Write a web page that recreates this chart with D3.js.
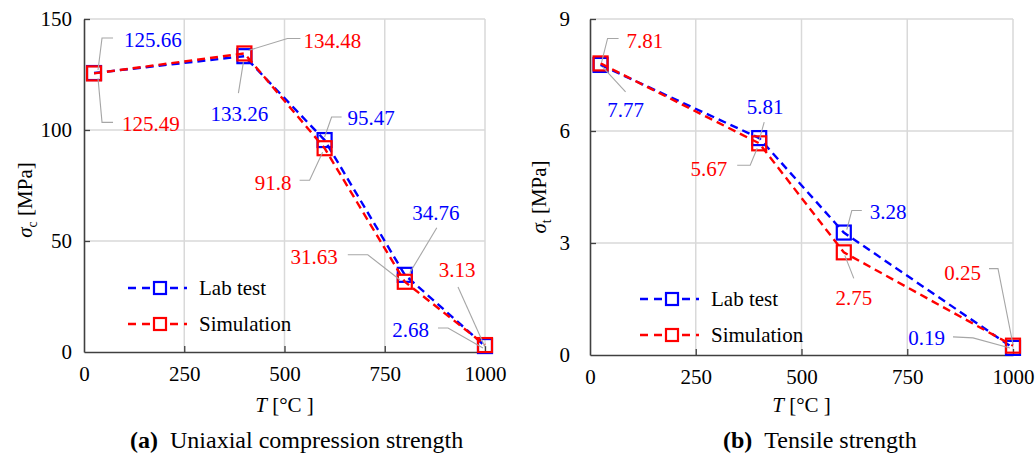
<!DOCTYPE html>
<html>
<head>
<meta charset="utf-8">
<script src="https://cdn.jsdelivr.net/npm/d3@7"></script>
</head>
<body style="margin:0">
<svg id="chart" width="1035" height="458"></svg>
<script>
// ---- data ----
const ucsTemps = [25, 400, 600, 800, 1000];
const ucsLab = [125.66, 133.26, 95.47, 34.76, 2.68];
const ucsSim = [125.49, 134.48, 91.8, 31.63, 3.13];

const tsTemps = [25, 400, 600, 1000];
const tsLab = [7.77, 5.81, 3.28, 0.19];
const tsSim = [7.81, 5.67, 2.75, 0.25];

const xTickValues = [0, 250, 500, 750, 1000];
const ucsTickValues = [0, 50, 100, 150];
const tsTickValues = [0, 3, 6, 9];

const seriesNames = ["Lab test", "Simulation"];
const captions = [["(a)", "Uniaxial compression strength"], ["(b)", "Tensile strength"]];

// ---- label placement: leader path and text offsets relative to each point ----
const ucsLabNotes = [
  { path: [[4, -3], [8, -35], [19, -35]], text: [30, -33], anchor: "start" },
  { path: [[-1, 6], [-6, 37]], text: [-5, 57], anchor: "middle" },
  { path: [[0, -3], [7, -23], [17, -23]], text: [23, -22], anchor: "start" },
  { path: [[5, -2], [32, -47]], text: [31, -62], anchor: "middle" },
  { path: [[-47, -18], [-37, -18], [-2, 2]], text: [-56, -16], anchor: "end" }
];
const ucsSimNotes = [
  { path: [[4, 5], [8, 49], [19, 49]], text: [28, 50], anchor: "start" },
  { path: [[4, -3], [43, -15], [56, -15]], text: [59, -13], anchor: "start" },
  { path: [[-25, 32], [-15, 32], [-2, 4]], text: [-33, 34], anchor: "end" },
  { path: [[-57, -27], [-37, -27], [-5, -2]], text: [-67, -25], anchor: "end" },
  { path: [[-27, -58], [0, 2]], text: [-28, -75], anchor: "middle" }
];
const tsLabNotes = [
  { path: [[2, 2], [25, 27]], text: [25, 45], anchor: "middle" },
  { path: [[0, 2], [5, -16]], text: [6, -31], anchor: "middle" },
  { path: [[3, -3], [8, -22], [18, -22]], text: [26, -21], anchor: "start" },
  { path: [[-60, -11], [-40, -10], [-3, 0]], text: [-68, -10], anchor: "end" }
];
const tsSimNotes = [
  { path: [[1, -1], [7, -25], [18, -25]], text: [26, -23], anchor: "start" },
  { path: [[-22, 22], [-9, 22], [-2, 5]], text: [-32, 25], anchor: "end" },
  { path: [[1, 3], [10, 26]], text: [10, 45], anchor: "middle" },
  { path: [[-24, -77], [-15, -77], [0, -1]], text: [-32, -73], anchor: "end" }
];

const BLUE = "#0000ff", RED = "#ff0000";
const GRID = "#d9d9d9", AXIS = "#404040", LEADER = "#a6a6a6";
const FONT = '"Liberation Serif"';

const svg = d3.select("#chart").style("font-family", FONT);

// every text gets the serif face set directly on it
function serif(sel, size) {
  return sel.style("font-family", FONT).attr("font-size", size);
}

function drawPanel(cfg) {
  const x = d3.scaleLinear().domain([0, 1000]).range(cfg.xRange);
  const y = d3.scaleLinear().domain([0, cfg.yMax]).range(cfg.yRange);
  const g = svg.append("g");

  // gridlines
  g.append("g").selectAll("line").data(xTickValues.filter(d => d > 0)).join("line")
    .attr("x1", d => x(d)).attr("x2", d => x(d))
    .attr("y1", y(0)).attr("y2", y(cfg.yMax))
    .attr("stroke", GRID).attr("stroke-width", 1.5);
  g.append("g").selectAll("line").data(cfg.yTicks.filter(d => d > 0)).join("line")
    .attr("x1", x(0)).attr("x2", x(1000))
    .attr("y1", d => y(d)).attr("y2", d => y(d))
    .attr("stroke", GRID).attr("stroke-width", 1.5);

  // axes with inward ticks
  const xAxis = d3.axisBottom(x).tickValues(xTickValues).tickFormat(d3.format("d"))
    .tickSizeInner(-6).tickSizeOuter(0).tickPadding(14);
  const yAxis = d3.axisLeft(y).tickValues(cfg.yTicks).tickFormat(d3.format("d"))
    .tickSizeInner(-6).tickSizeOuter(0).tickPadding(cfg.yPad);
  const gx = g.append("g").attr("transform", `translate(0,${y(0)})`).call(xAxis);
  const gy = g.append("g").attr("transform", `translate(${x(0)},0)`).call(yAxis);
  [gx, gy].forEach(a => {
    a.attr("font-family", null).attr("font-size", 21);
    a.select(".domain").attr("stroke", AXIS).attr("stroke-width", 1.6);
    a.selectAll(".tick line").attr("stroke", AXIS).attr("stroke-width", 1.3);
    serif(a.selectAll(".tick text"), 21).attr("fill", "#000");
  });
  gx.selectAll(".tick text").attr("dy", "0.71em");
  gy.selectAll(".tick line").filter(d => d === 0).remove();
  gx.selectAll(".tick line").filter(d => d === 0).remove();

  // axis titles
  const cx = (cfg.xRange[0] + cfg.xRange[1]) / 2;
  const xt = serif(g.append("text"), 21).attr("x", cx).attr("y", 412)
    .attr("text-anchor", "middle").attr("fill", "#000");
  xt.append("tspan").attr("font-style", "italic").text("T");
  xt.append("tspan").text(" [°C ]");

  const yt = serif(g.append("text"), 21)
    .attr("transform", `translate(${cfg.yTitleX},${cfg.yTitleY}) rotate(-90)`)
    .attr("text-anchor", "middle").attr("fill", "#000");
  yt.append("tspan").attr("font-style", "italic").text("σ");
  yt.append("tspan").attr("font-size", 14).attr("dy", 5).text(cfg.sub);
  yt.append("tspan").attr("dy", -5).text(" [MPa]");

  // caption
  const cap = serif(g.append("text"), 24).attr("x", cfg.capX).attr("y", 448).attr("fill", "#000");
  cap.append("tspan").attr("font-weight", "bold").text(cfg.caption[0]);
  cap.append("tspan").text("\u2002" + cfg.caption[1]);

  // series
  const line = d3.line().x(d => x(d[0])).y(d => y(d[1]));
  const series = [
    { vals: cfg.lab, color: BLUE, notes: cfg.labNotes },
    { vals: cfg.sim, color: RED, notes: cfg.simNotes }
  ];
  const S = 14;
  series.forEach(s => {
    const pts = cfg.temps.map((t, i) => [t, s.vals[i]]);
    g.append("path").datum(pts).attr("d", line).attr("fill", "none")
      .attr("stroke", s.color).attr("stroke-width", 2.4).attr("stroke-dasharray", "8,5");
    g.append("g").selectAll("rect").data(pts).join("rect")
      .attr("x", d => x(d[0]) - S / 2).attr("y", d => y(d[1]) - S / 2)
      .attr("width", S).attr("height", S).attr("fill", "none")
      .attr("stroke", s.color).attr("stroke-width", 2.2);
  });

  // value labels with leader lines
  series.forEach(s => {
    cfg.temps.forEach((t, i) => {
      const px = x(t), py = y(s.vals[i]);
      const n = s.notes[i];
      g.append("polyline")
        .attr("points", n.path.map(p => `${px + p[0]},${py + p[1]}`).join(" "))
        .attr("fill", "none").attr("stroke", LEADER).attr("stroke-width", 1.1);
      serif(g.append("text"), 21).attr("x", px + n.text[0]).attr("y", py + n.text[1])
        .attr("dy", "0.35em").attr("text-anchor", n.anchor)
        .attr("fill", s.color).text(String(s.vals[i]));
    });
  });

  // legend
  const lg = g.append("g");
  series.forEach((s, i) => {
    const ly = cfg.legY + i * 36;
    lg.append("line").attr("x1", cfg.legX).attr("x2", cfg.legX + 59)
      .attr("y1", ly).attr("y2", ly).attr("stroke", s.color).attr("stroke-width", 2.4)
      .attr("stroke-dasharray", "8,6");
    lg.append("rect").attr("x", cfg.legX + 32 - 6).attr("y", ly - 6).attr("width", 12).attr("height", 12)
      .attr("fill", "#fff").attr("stroke", s.color).attr("stroke-width", 2.2);
    serif(lg.append("text"), 21).attr("x", cfg.legX + 71).attr("y", ly).attr("dy", "0.35em")
      .attr("fill", "#000").text(seriesNames[i]);
  });
}

drawPanel({
  xRange: [84, 485], yRange: [352, 19], yMax: 150, yTicks: ucsTickValues, yPad: 12,
  temps: ucsTemps, lab: ucsLab, sim: ucsSim, labNotes: ucsLabNotes, simNotes: ucsSimNotes,
  sub: "c", yTitleX: 32, yTitleY: 200, caption: captions[0], capX: 130,
  legX: 128, legY: 288
});
drawPanel({
  xRange: [590, 1013], yRange: [355, 19], yMax: 9, yTicks: tsTickValues, yPad: 20,
  temps: tsTemps, lab: tsLab, sim: tsSim, labNotes: tsLabNotes, simNotes: tsSimNotes,
  sub: "t", yTitleX: 546, yTitleY: 197, caption: captions[1], capX: 723,
  legX: 640, legY: 299
});
</script>
</body>
</html>
